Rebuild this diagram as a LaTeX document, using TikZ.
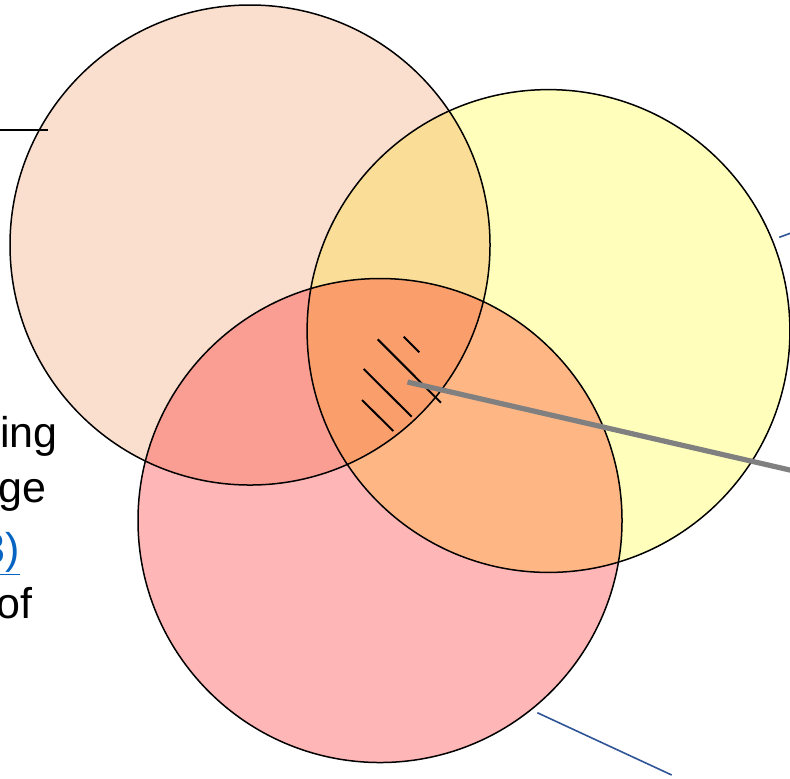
\documentclass[tikz,border=0pt]{standalone}
\usepackage{fontspec}
\setmainfont{Liberation Sans}
\usetikzlibrary{positioning}
\definecolor{vennpeach}{RGB}{250,222,206}
\definecolor{vennyellow}{RGB}{255,255,187}
\definecolor{vennpink}{RGB}{255,182,182}
\definecolor{linkblue}{RGB}{5,99,193}
\definecolor{callblue}{RGB}{47,85,151}
\definecolor{pointgray}{RGB}{128,128,128}

\begin{document}
\begin{tikzpicture}[x=0.5pt,y=-0.5pt,
  ring/.style={draw=black,line width=0.75pt},
  hatch/.style={black,line width=1pt},
  callout/.style={callblue,line width=0.8pt},
  pointer/.style={pointgray,line width=2.6pt},
  frag/.style={font=\fontsize{21.5}{26}\selectfont,anchor=base east,inner sep=0pt}]
\useasboundingbox (0,0) rectangle (790,778);

% ================= THE THREE CIRCLES =================
\begin{scope}[blend mode=multiply]
  \filldraw[ring,fill=vennpeach] (250,245) circle[radius=120pt];
  \filldraw[ring,fill=vennyellow] (548.5,331) circle[radius=120.7pt];
  \filldraw[ring,fill=vennpink] (380,520.5) circle[radius=121pt];
\end{scope}

% ================= HATCHING IN THE MIDDLE =================
\coordinate (h1a) at (403.7,336.7); \coordinate (h1b) at (419.3,352.3);
\coordinate (h2a) at (377.7,339.3); \coordinate (h2b) at (441,402.7);
\coordinate (h3a) at (363.7,369);   \coordinate (h3b) at (411.7,416.7);
\coordinate (h4a) at (362,400);     \coordinate (h4b) at (393.3,431);
\draw[hatch] (h1a) -- (h1b);
\draw[hatch] (h2a) -- (h2b);
\draw[hatch] (h3a) -- (h3b);
\draw[hatch] (h4a) -- (h4b);

% ================= POINTER AND CALLOUT LINES =================
\coordinate (ptip) at (407.5,382);
\coordinate (pout) at (792,470.5);
\draw[pointer] (ptip) -- (pout);
\coordinate (topa) at (0,130); \coordinate (topb) at (48,130);
\draw[black,line width=0.7pt] (topa) -- (topb);
\coordinate (rca) at (779.3,237.3); \coordinate (rcb) at (791,233);
\draw[callout] (rca) -- (rcb);
\coordinate (bca) at (537.3,712.7); \coordinate (bcb) at (671.7,775);
\draw[callout] (bca) -- (bcb);

% ================= CUT-OFF TEXT AT THE LEFT =================
\node[frag] (lineing) at (58,447) {ing};
\node[frag] (linege) at (47,502) {ge};
\node[frag,text=linkblue] (linelink) at (20,563) {\underline{3)}};
\node[frag] (lineof) at (33,618) {of};
\end{tikzpicture}
\end{document}
